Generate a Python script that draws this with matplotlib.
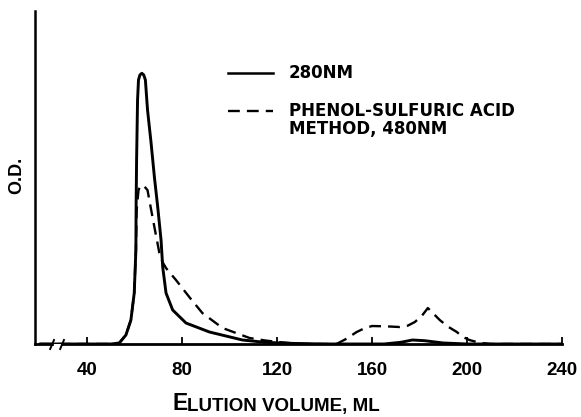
import matplotlib.pyplot as plt
from matplotlib.lines import Line2D

plt.rcParams['font.family'] = ['Liberation Sans', 'DejaVu Sans']

# 280nm のデータ (読み取り値)
vol_280 = [20, 50, 53.5, 56.3, 58.4, 59.8, 60.5, 60.6, 60.8, 61.2,
           61.6, 62.2, 63.0, 63.8, 64.5, 65.4, 66.9, 68.3, 69.7, 71.1,
           71.8, 73.2, 76.0, 81.6, 91.5, 105.4, 115, 125, 140, 165,
           172, 177, 182, 190, 200, 240]
od_280 = [0, 0, 0.003, 0.027, 0.072, 0.153, 0.282, 0.42, 0.553, 0.733,
          0.793, 0.808, 0.813, 0.808, 0.793, 0.703, 0.604, 0.501, 0.411, 0.312,
          0.231, 0.153, 0.102, 0.063, 0.036, 0.012, 0.005, 0.002, 0, 0,
          0.005, 0.012, 0.01, 0.003, 0, 0]

# フェノール硫酸法 480nm
vol_ps = [20, 50, 53.5, 56.3, 58.4, 59.8, 60.5, 60.8, 61.6, 62.3,
          63.0, 64.2, 65.4, 66.4, 68.3, 70.4, 71.8, 73.2, 77.4, 83.0,
          88.5, 97.0, 108.4, 115.5, 122, 130, 145, 149, 153.5, 157,
          160, 166, 171.6, 175, 178, 181, 183.5, 186, 188.5, 192,
          195.7, 198, 201, 205, 210, 240]
od_ps = [0, 0, 0.003, 0.027, 0.072, 0.153, 0.28, 0.40, 0.462, 0.474,
         0.477, 0.472, 0.462, 0.423, 0.351, 0.273, 0.245, 0.228, 0.192, 0.141,
         0.093, 0.048, 0.018, 0.01, 0.005, 0, 0, 0.015, 0.036, 0.048,
         0.054, 0.053, 0.051, 0.055, 0.066, 0.085, 0.108, 0.09, 0.072, 0.052,
         0.036, 0.022, 0.012, 0.004, 0, 0]

xticks = [40, 80, 120, 160, 200, 240]

dash = (0, (5.0, 3.0))

fig = plt.figure(figsize=(5.81, 4.17), dpi=100)
ax = fig.add_axes([35 / 581, 1 - 344 / 417, 527 / 581, 333 / 417])

ax.plot(vol_280, od_280, color="black", lw=2.1, solid_joinstyle="round",
        solid_capstyle="round")
ax.plot(vol_ps, od_ps, color="black", lw=1.7, linestyle=dash)

ax.set_xlim(18, 240)
ax.set_ylim(0, 1)

for s in ["top", "right", "bottom"]:
    ax.spines[s].set_visible(False)
ax.spines["left"].set_linewidth(1.8)

# 軸の切れ目付きのベースライン
ax.plot([18, 25.2], [0, 0], color="black", lw=2.0, clip_on=False)
ax.plot([29.4, 240], [0, 0], color="black", lw=2.0, clip_on=False)
for xb in [25.2, 29.4]:
    ax.plot([xb - 0.8, xb + 0.8], [-0.015, 0.012], color="black", lw=1.4, clip_on=False)

ax.set_yticks([])
ax.set_xticks(xticks)
ax.tick_params(axis="x", direction="in", length=5, width=1.3, pad=13, labelsize=13.5)
for lab in ax.get_xticklabels():
    lab.set_fontweight("bold")

# x軸ラベル (スモールキャップス風)
e_txt = fig.text(172 / 581, 1 - 410 / 417, "E", ha="left", va="baseline",
                 fontsize=16.5, fontweight="bold")
ax.annotate("LUTION VOLUME, ML", xy=(1, 0), xycoords=e_txt, ha="left", va="bottom",
            fontsize=13.5, fontweight="bold", annotation_clip=False)

fig.text(17 / 581, 1 - 175 / 417, "O.D.", ha="center", va="center", rotation=90,
         fontsize=13, fontweight="bold")

# 凡例 (手描き)
fig.add_artist(Line2D([228 / 581, 273 / 581], [1 - 73 / 417, 1 - 73 / 417],
                      color="black", lw=1.8))
fig.add_artist(Line2D([228 / 581, 273 / 581], [1 - 111 / 417, 1 - 111 / 417],
                      color="black", lw=1.7, linestyle=dash))
leg_font = dict(ha="left", va="center", fontsize=12, fontweight="bold",
                family=["DejaVu Sans"])
fig.text(289 / 581, 1 - 73 / 417, "280NM", **leg_font)
fig.text(289 / 581, 1 - 111 / 417, "PHENOL-SULFURIC ACID", **leg_font)
fig.text(289 / 581, 1 - 129 / 417, "METHOD, 480NM", **leg_font)

fig.savefig("out.png", dpi=100)
